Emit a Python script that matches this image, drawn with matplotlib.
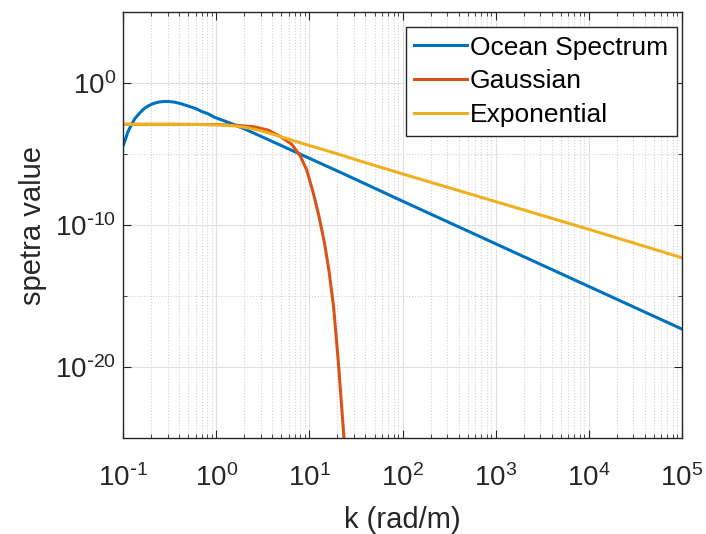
import numpy as np
import matplotlib
matplotlib.use("Agg")
import matplotlib.pyplot as plt
from matplotlib.ticker import FixedLocator, LogLocator, NullFormatter, FuncFormatter

plt.rcParams['font.family'] = ['Liberation Sans', 'DejaVu Sans']

# values (exponents of 10)
ocean_logk = [-1.0, -0.975, -0.95, -0.915, -0.878, -0.82, -0.77, -0.715, -0.663, -0.61,
              -0.555, -0.5, -0.448, -0.38, -0.305, -0.23, -0.162, -0.09, -0.018, 0.16,
              0.3, 0.558, 0.917, 1.275, 1.543, 2.0, 3.0, 4.0, 5.0]
ocean_logv = [-4.35, -3.9, -3.4, -2.95, -2.5, -2.06, -1.75, -1.53, -1.40, -1.31,
              -1.28, -1.29, -1.33, -1.44, -1.60, -1.76, -1.97, -2.15, -2.4, -2.83,
              -3.21, -3.97, -5.04, -6.1, -6.91, -8.3, -11.3, -14.3, -17.3]

gauss_logk = [-1.0, -0.5, 0.0, 0.2, 0.4, 0.558, 0.7, 0.81, 0.9, 0.97,
              1.04, 1.1, 1.16, 1.21, 1.26, 1.31, 1.37, 1.40]
gauss_logv = [-2.89, -2.89, -2.91, -2.95, -3.06, -3.3, -3.8, -4.3, -5.1, -6.1,
              -7.7, -9.3, -11.2, -13.2, -15.8, -19.6, -24.9, -27.8]

expo_logk = [-1.0, -0.5, -0.2, 0.0, 0.2, 0.35, 0.5, 0.65, 0.8, 0.917,
             1.275, 1.543, 2.0, 3.0, 4.0, 5.0]
expo_logv = [-2.89, -2.89, -2.9, -2.93, -3.0, -3.15, -3.38, -3.68, -3.98, -4.22,
             -4.92, -5.47, -6.38, -8.33, -10.28, -12.28]

labels = ['Ocean Spectrum', 'Gaussian', 'Exponential']
colors = ['#0072BD', '#D95319', '#EDB120']


def pow10(v, pos):
    e = int(round(np.log10(v)))
    if e < 0:
        return r'$\mathdefault{10^{\text{-}%d}}$' % (-e)
    return r'$\mathdefault{10^{%d}}$' % e


fig = plt.figure(figsize=(7.06, 5.34), dpi=100)
ax = fig.add_axes([0.1747, 0.1792, 0.7909, 0.7978])

series = [(ocean_logk, ocean_logv), (gauss_logk, gauss_logv), (expo_logk, expo_logv)]
for (lk, lv), lab, c in zip(series, labels, colors):
    ax.plot(10.0 ** np.array(lk), 10.0 ** np.array(lv), color=c, lw=2.2, label=lab)

ax.set_xscale('log')
ax.set_yscale('log')
ax.set_xlim(1e-1, 1e5)
ax.set_ylim(1e-25, 1e5)

ax.xaxis.set_major_locator(LogLocator(base=10, numticks=20))
ax.xaxis.set_minor_locator(LogLocator(base=10, subs=np.arange(2, 10), numticks=20))
ax.xaxis.set_major_formatter(FuncFormatter(pow10))
ax.xaxis.set_minor_formatter(NullFormatter())
ax.yaxis.set_major_locator(FixedLocator([1e-20, 1e-10, 1e0]))
ax.yaxis.set_minor_locator(FixedLocator([1e-25, 1e-15, 1e-5, 1e5]))
ax.yaxis.set_major_formatter(FuncFormatter(pow10))
ax.yaxis.set_minor_formatter(NullFormatter())

ax.grid(True, which='major', color='#e0e0e0', lw=0.8, ls='-')
ax.grid(True, which='minor', color='#d0d0d0', lw=0.8, ls=':')
ax.set_axisbelow(True)

for s in ax.spines.values():
    s.set_color('#262626')
    s.set_linewidth(1.0)
ax.tick_params(which='both', direction='in', top=True, right=True, colors='#262626',
               labelsize=20, labelcolor='#262626')
ax.tick_params(which='major', length=6)
ax.tick_params(which='minor', length=3)
ax.tick_params(axis='x', which='major', pad=19)
ax.tick_params(axis='y', which='major', pad=5)

ax.set_xlabel('k (rad/m)', fontsize=21, color='#262626', labelpad=10)
ax.set_ylabel('spetra value', fontsize=21, color='#262626', labelpad=6)

leg = ax.legend(loc='upper right', bbox_to_anchor=(0.991, 0.965), borderaxespad=0,
                fontsize=19, frameon=True, fancybox=False, handlelength=2.0,
                handletextpad=0.12, labelspacing=0.37, borderpad=0.32)
leg.get_frame().set_edgecolor('#262626')
leg.get_frame().set_linewidth(1.0)
leg.get_frame().set_alpha(1)

fig.savefig('out.png', dpi=100)
